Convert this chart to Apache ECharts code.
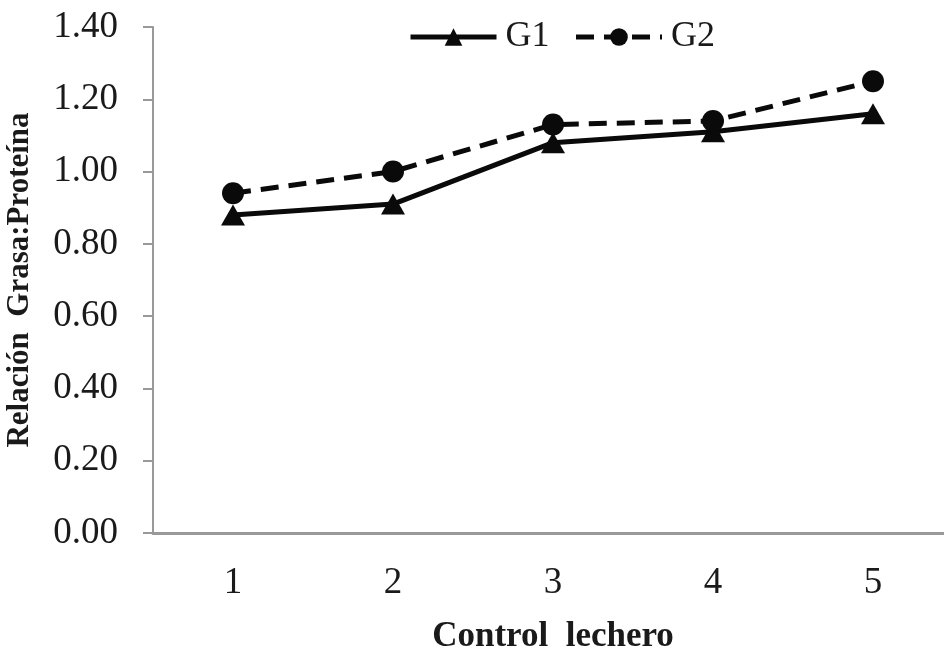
<!DOCTYPE html>
<html>
<head>
<meta charset="utf-8">
<script src="https://cdn.jsdelivr.net/npm/echarts@6/dist/echarts.min.js"></script>
<style>html,body{margin:0;padding:0;background:#fff}#c{width:944px;height:651px}</style>
</head>
<body>
<div id="c"></div>
<script>
var categories = ['1', '2', '3', '4', '5'];
var g1 = [0.88, 0.91, 1.08, 1.11, 1.16];
var g2 = [0.94, 1.00, 1.13, 1.14, 1.25];
var yTicks = { min: 0, max: 1.4, step: 0.2 };

var chart = echarts.init(document.getElementById('c'), null, { renderer: 'canvas' });
var font = 'Liberation Serif';
chart.setOption({
  animation: false,
  backgroundColor: '#fff',
  grid: { left: 153, right: -9, top: 27, bottom: 118, containLabel: false, outerBoundsMode: 'none' },
  legend: {
    left: 403, top: 14,
    itemWidth: 86, itemHeight: 22, itemGap: 24,
    lineStyle: { width: 5 },
    textStyle: { fontFamily: font, fontSize: 36, color: '#1a1a1a', padding: [0, 0, 0, 4] },
    data: ['G1', 'G2']
  },
  xAxis: {
    type: 'category',
    data: categories,
    boundaryGap: true,
    name: 'Control  lechero',
    nameLocation: 'middle',
    nameGap: 86,
    nameTextStyle: { fontFamily: font, fontSize: 35, fontWeight: 'bold', color: '#1a1a1a' },
    axisLine: { lineStyle: { color: '#999', width: 3 } },
    axisTick: { show: false },
    axisLabel: { fontFamily: font, fontSize: 37, color: '#1a1a1a', margin: 32 }
  },
  yAxis: {
    type: 'value',
    min: yTicks.min, max: yTicks.max, interval: yTicks.step,
    name: 'Relación  Grasa:Proteína',
    nameLocation: 'middle',
    nameGap: 118,
    nameTextStyle: { fontFamily: font, fontSize: 31, fontWeight: 'bold', color: '#1a1a1a' },
    axisLine: { show: true, lineStyle: { color: '#999', width: 2 } },
    axisTick: { show: true, length: 10, lineStyle: { color: '#999', width: 2 } },
    splitLine: { show: false },
    axisLabel: {
      fontFamily: font, fontSize: 37, color: '#1a1a1a', margin: 35,
      formatter: function (v) { return v.toFixed(2); }
    }
  },
  series: [
    {
      name: 'G1', type: 'line', data: g1,
      symbol: 'triangle', symbolSize: [24, 21],
      lineStyle: { color: '#0a0a0a', width: 5 },
      itemStyle: { color: '#0a0a0a' }
    },
    {
      name: 'G2', type: 'line', data: g2,
      symbol: 'circle', symbolSize: 22,
      lineStyle: { color: '#0a0a0a', width: 5, type: [18, 10] },
      itemStyle: { color: '#0a0a0a' }
    }
  ]
});
</script>
</body>
</html>
